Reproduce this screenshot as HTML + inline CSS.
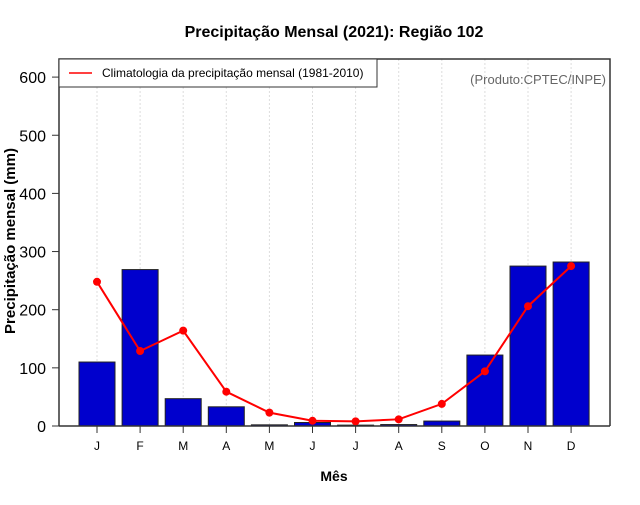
<!DOCTYPE html>
<html><head><meta charset="utf-8"><style>
body{margin:0;background:#fff;font-family:"Liberation Sans",sans-serif;}
svg text{font-family:"Liberation Sans",sans-serif;}
</style></head><body>
<svg id="chart" width="640" height="500">
<rect width="640" height="500" fill="#fff"/>
<text x="334" y="37" text-anchor="middle" font-size="16" font-weight="bold">Precipitação Mensal (2021): Região 102</text>
<text x="334" y="481" text-anchor="middle" font-size="14" font-weight="bold">Mês</text>
<text transform="translate(15,241) rotate(-90)" text-anchor="middle" font-size="15" font-weight="bold">Precipitação mensal (mm)</text>
<g id="grid"></g><g id="bars"></g><g id="line"></g><g id="axes"></g>
<rect x="59" y="59" width="318" height="28" fill="#fff" stroke="#333"/>
<line x1="69" y1="73" x2="92" y2="73" stroke="#f00" stroke-width="1.5"/>
<text x="102" y="77" font-size="12">Climatologia da precipitação mensal (1981-2010)</text>
<text x="606" y="84" text-anchor="end" font-size="13" fill="#666">(Produto:CPTEC/INPE)</text>
</svg>
<script>
const months=["J","F","M","A","M","J","J","A","S","O","N","D"];
const observed=[110,269,47,33,2,6,1.5,2.5,8.5,122,275,282];
const climatology=[248,129,164,59,23,9,8,11.5,38,94,206,275];
const yTicks=[0,100,200,300,400,500,600];
const NS="http://www.w3.org/2000/svg";
const L=59,R=610,T=59,B=426;
const x=i=>97+i*43.1;
const y=v=>426-v*0.5815;
function mk(t,a,p){const e=document.createElementNS(NS,t);for(const k in a)e.setAttribute(k,a[k]);document.getElementById(p).appendChild(e);return e;}
months.forEach((m,i)=>{
 const g=mk("line",{x1:x(i),x2:x(i),y1:T,y2:B,stroke:"#ddd","stroke-dasharray":"2,2"},"grid");
 
 
 const b=mk("rect",{x:x(i)-18,y:y(observed[i]),width:36,height:B-y(observed[i]),fill:"#0000cd",stroke:"#222","stroke-width":1},"bars");
 
 
 const t=mk("line",{x1:x(i),x2:x(i),y1:B,y2:B+7,stroke:"#333"},"axes");
 
 
 const lb=mk("text",{x:x(i),y:450,"text-anchor":"middle","font-size":12},"axes");lb.textContent=m;
 
 
});
const pl=mk("polyline",{points:climatology.map((v,i)=>x(i)+","+y(v)).join(" "),fill:"none",stroke:"#f00","stroke-width":2},"line");


climatology.forEach((v,i)=>{
 const c=mk("circle",{cx:x(i),cy:y(v),r:4,fill:"#f00"},"line");
 
 
});
yTicks.forEach(v=>{
 const t=mk("line",{x1:L-7,x2:L,y1:y(v),y2:y(v),stroke:"#333"},"axes");
 
 
 const lb=mk("text",{x:L-13,y:y(v)+6,"text-anchor":"end","font-size":16},"axes");lb.textContent=v;
 
 
});
const fr=mk("path",{d:`M${L},${B} L${L},${T} L${R},${T} L${R},${B}`,fill:"none",stroke:"#333","stroke-width":1.5},"axes");


const xb=mk("line",{x1:L,x2:R,y1:B,y2:B,stroke:"#333","stroke-width":1.5},"axes");


</script>
</body></html>
